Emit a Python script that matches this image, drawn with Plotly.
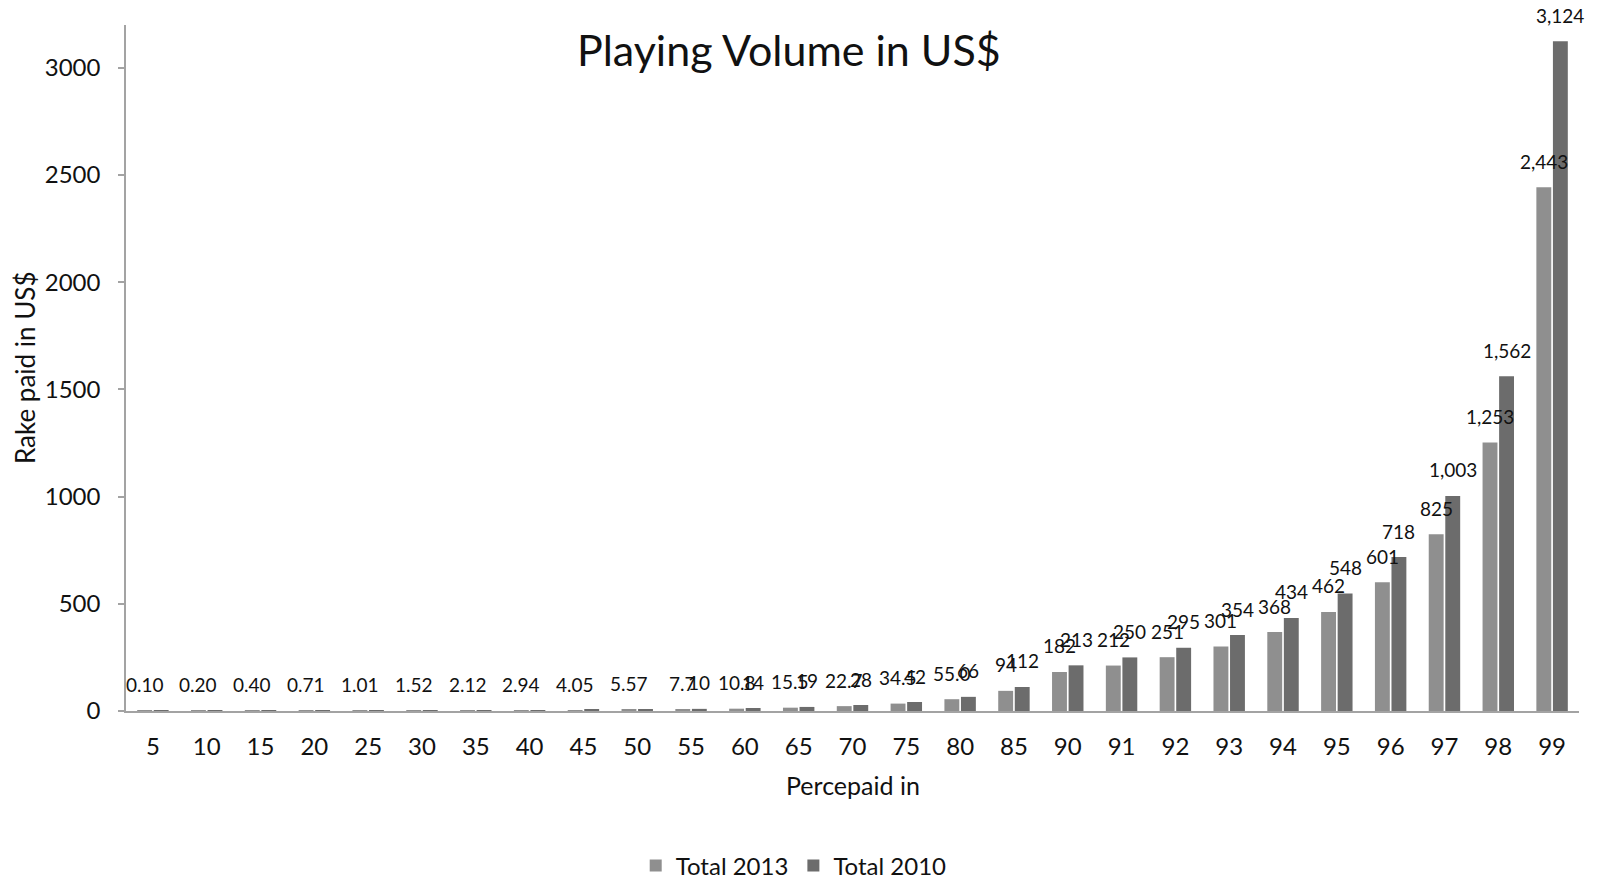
import plotly.graph_objects as go

# Percentile groups
percentiles = ["5", "10", "15", "20", "25", "30", "35", "40", "45", "50", "55", "60",
               "65", "70", "75", "80", "85", "90", "91", "92", "93", "94", "95", "96",
               "97", "98", "99"]

# Rake paid (US$) per percentile
total_2013 = [0.10, 0.20, 0.40, 0.71, 1.01, 1.52, 2.12, 2.94, 4.05, 5.57, 7.7, 10.8,
              15.5, 22.7, 34.5, 55.0, 94, 182, 212, 251, 301, 368, 462, 601,
              825, 1253, 2443]
total_2010 = [0.13, 0.26, 0.5, 0.9, 1.3, 1.9, 2.7, 3.7, 5.1, 7.0, 10, 14,
              19, 28, 42, 66, 112, 213, 250, 295, 354, 434, 548, 718,
              1003, 1562, 3124]

labels_2013 = ["0.10", "0.20", "0.40", "0.71", "1.01", "1.52", "2.12", "2.94", "4.05",
               "5.57", "7.7", "10.8", "15.5", "22.7", "34.5", "55.0", "94", "182", "212",
               "251", "301", "368", "462", "601", "825", "1,253", "2,443"]
labels_2010 = [f"{v:,.0f}" if v >= 10 else "" for v in total_2010]

LIGHT = "#8f8f8f"
DARK = "#6c6c6c"
AXIS = "#a3a3a3"
FONT = "Lato"
INK = "#111111"

BARGAP = 0.385
x_idx = list(range(len(percentiles)))
half = (1 - BARGAP) / 4  # offset of each bar centre from the group centre

fig = go.Figure()
fig.add_trace(go.Bar(x=x_idx, y=total_2013, name="Total 2013",
                     marker=dict(color=LIGHT, line=dict(width=0))))
fig.add_trace(go.Bar(x=x_idx, y=total_2010, name="Total 2010",
                     marker=dict(color=DARK, line=dict(width=0))))

annotations = []
for i in x_idx:
    for off, val, txt in ((-half, total_2013[i], labels_2013[i]),
                          (half, total_2010[i], labels_2010[i])):
        if txt:
            annotations.append(dict(x=i + off, y=val, xref="x", yref="y", text=txt,
                                    showarrow=False, yanchor="middle", yshift=26,
                                    font=dict(family=FONT, size=19, color=INK)))

# Title and axis titles
annotations.append(dict(text="Playing Volume in US$", xref="paper", yref="paper",
                        x=0, xshift=663, y=1, yshift=-24, xanchor="center",
                        yanchor="middle", showarrow=False,
                        font=dict(family=FONT, size=43, color=INK)))
annotations.append(dict(text="Rake paid in US$", xref="paper", yref="paper",
                        x=0, xshift=-101, y=0.5, textangle=-90, xanchor="center",
                        yanchor="middle", showarrow=False,
                        font=dict(family=FONT, size=26, color=INK)))
annotations.append(dict(text="Percepaid in", xref="paper", yref="paper",
                        x=0.5, y=0, yshift=-74, xanchor="center", yanchor="middle",
                        showarrow=False, font=dict(family=FONT, size=25, color=INK)))

fig.update_layout(
    width=1597, height=879,
    margin=dict(l=126, r=18, t=25, b=168),
    paper_bgcolor="white", plot_bgcolor="white",
    barmode="group", bargap=BARGAP, bargroupgap=0.1,
    font=dict(family=FONT, color=INK),
    showlegend=True,
    legend=dict(orientation="h", xref="container", x=0.497, xanchor="center",
                yref="container", y=13 / 879, yanchor="middle",
                font=dict(family=FONT, size=24, color=INK),
                itemwidth=30, traceorder="normal"),
    annotations=annotations,
)
fig.update_xaxes(range=[-0.5, len(percentiles) - 0.5], tickmode="array",
                 tickvals=x_idx, ticktext=percentiles, showgrid=False, zeroline=False,
                 showline=True, linecolor=AXIS, linewidth=1.5, ticks="",
                 ticklabelstandoff=13,
                 tickfont=dict(family=FONT, size=24, color=INK))
fig.update_yaxes(range=[0, 3200], tickmode="array",
                 tickvals=[0, 500, 1000, 1500, 2000, 2500, 3000],
                 showgrid=False, zeroline=False, showline=True, linecolor=AXIS,
                 linewidth=1.5, ticks="outside", ticklen=6, tickcolor=AXIS,
                 tickwidth=1.5, ticklabelstandoff=13,
                 tickfont=dict(family=FONT, size=24, color=INK))

fig.write_html("out.html")
